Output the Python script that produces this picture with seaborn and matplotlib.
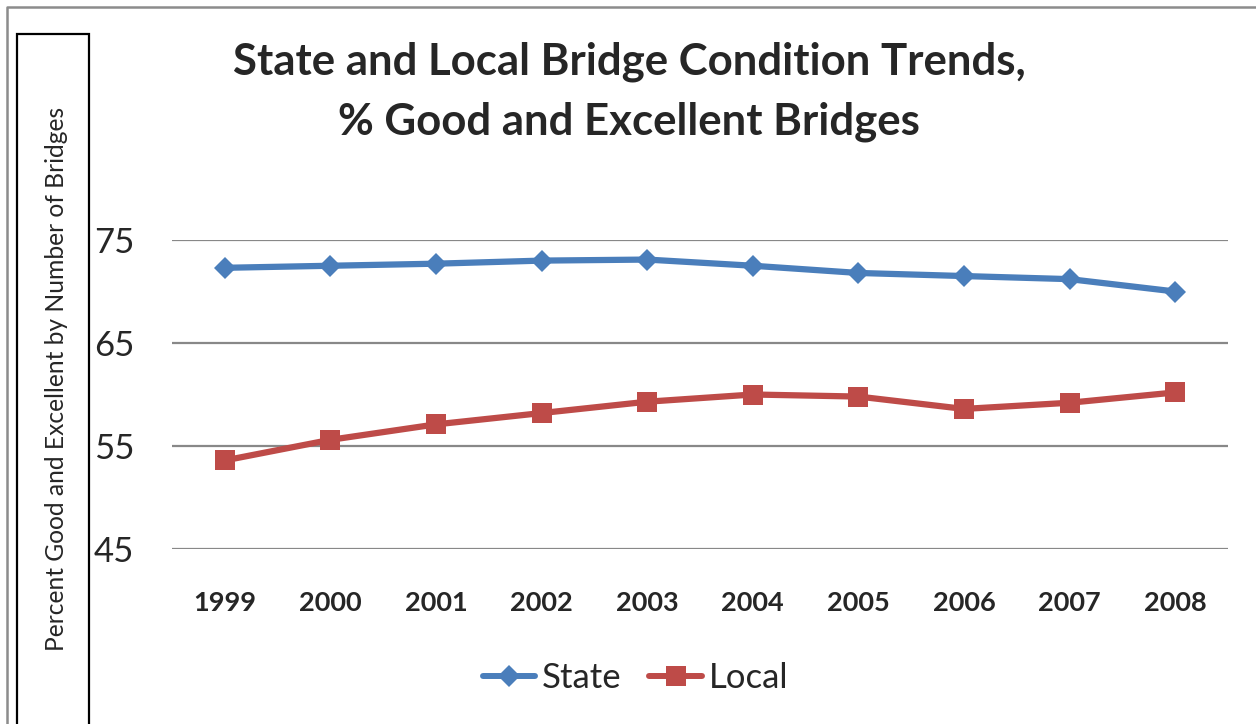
import pandas as pd
import matplotlib.pyplot as plt
import seaborn as sns
from matplotlib.patches import Rectangle
from matplotlib.lines import Line2D

# Data
years = ["1999", "2000", "2001", "2002", "2003", "2004", "2005", "2006", "2007", "2008"]
state = [72.3, 72.5, 72.7, 73.0, 73.1, 72.5, 71.8, 71.5, 71.2, 70.0]
local = [53.6, 55.6, 57.1, 58.2, 59.3, 60.0, 59.8, 58.6, 59.2, 60.2]
yticks = [45, 55, 65, 75]

df = pd.DataFrame({
    "year": years * 2,
    "value": state + local,
    "series": ["State"] * len(years) + ["Local"] * len(years),
})

sns.set_style("white")
plt.rcParams["font.family"] = ["Lato", "DejaVu Sans"]

fig = plt.figure(figsize=(12.56, 7.24), dpi=100)
ax = fig.add_axes([172 / 1256, 1 - 549 / 724, (1228 - 172) / 1256, (549 - 240) / 724])

colors = {"State": "#4A7EBB", "Local": "#BE4B48"}
sns.lineplot(data=df, x="year", y="value", hue="series", style="series",
             markers={"State": "D", "Local": "s"}, dashes=False,
             palette=colors, ax=ax, sort=False)
# seaborn sets its own widths; make them match the Excel look
for line in ax.lines:
    line.set_linewidth(4.5)
    line.set_markeredgewidth(0)
    line.set_markersize(11 if line.get_marker() == "D" else 15)

ax.set_xlim(-0.5, len(years) - 0.5)
ax.set_ylim(45, 75)
ax.set_yticks(yticks)
ax.yaxis.grid(True, color="#888888", linewidth=1.6)
ax.xaxis.grid(False)
for s in ax.spines.values():
    s.set_visible(False)
ax.tick_params(axis="y", length=0, pad=27, labelsize=25)
ax.tick_params(axis="x", length=0, pad=30, labelsize=19.5)
for lbl in ax.get_xticklabels():
    lbl.set_fontweight("bold")
ax.set_xlabel("")
ax.set_ylabel("")

# legend at bottom
ax.get_legend().remove()
handles = [
    Line2D([], [], color=colors["State"], marker="D", markersize=11, markeredgewidth=0, linewidth=4.3),
    Line2D([], [], color=colors["Local"], marker="s", markersize=15, markeredgewidth=0, linewidth=4.3),
]
fig.legend(handles, ["State", "Local"], loc="center", bbox_to_anchor=(0.506, 1 - 678 / 724),
           ncol=2, frameon=False, fontsize=25, handlelength=1.5, handletextpad=0.2,
           columnspacing=0.8)

# title
fig.text(629 / 1256, 1 - 92 / 724, "State and Local Bridge Condition Trends,\n% Good and Excellent Bridges",
         ha="center", va="center", fontsize=31.5, fontweight="bold", linespacing=1.6)

# y-axis title in its own box
fig.patches.append(Rectangle((17 / 1256, -0.05), (89 - 17) / 1256, 1.05 - 34 / 724,
                             transform=fig.transFigure, fill=False, edgecolor="black",
                             linewidth=1.6))
fig.text(57 / 1256, 1 - 379 / 724, "Percent Good and Excellent by Number of Bridges",
         rotation=90, ha="center", va="center", fontsize=17.7)

# outer chart frame
fig.lines.append(Line2D([7 / 1256, 7 / 1256, 1.0], [0.0, 1 - 7 / 724, 1 - 7 / 724],
                        transform=fig.transFigure, color="#8c8c8c", linewidth=1.8))

fig.savefig("out.png", dpi=100)
